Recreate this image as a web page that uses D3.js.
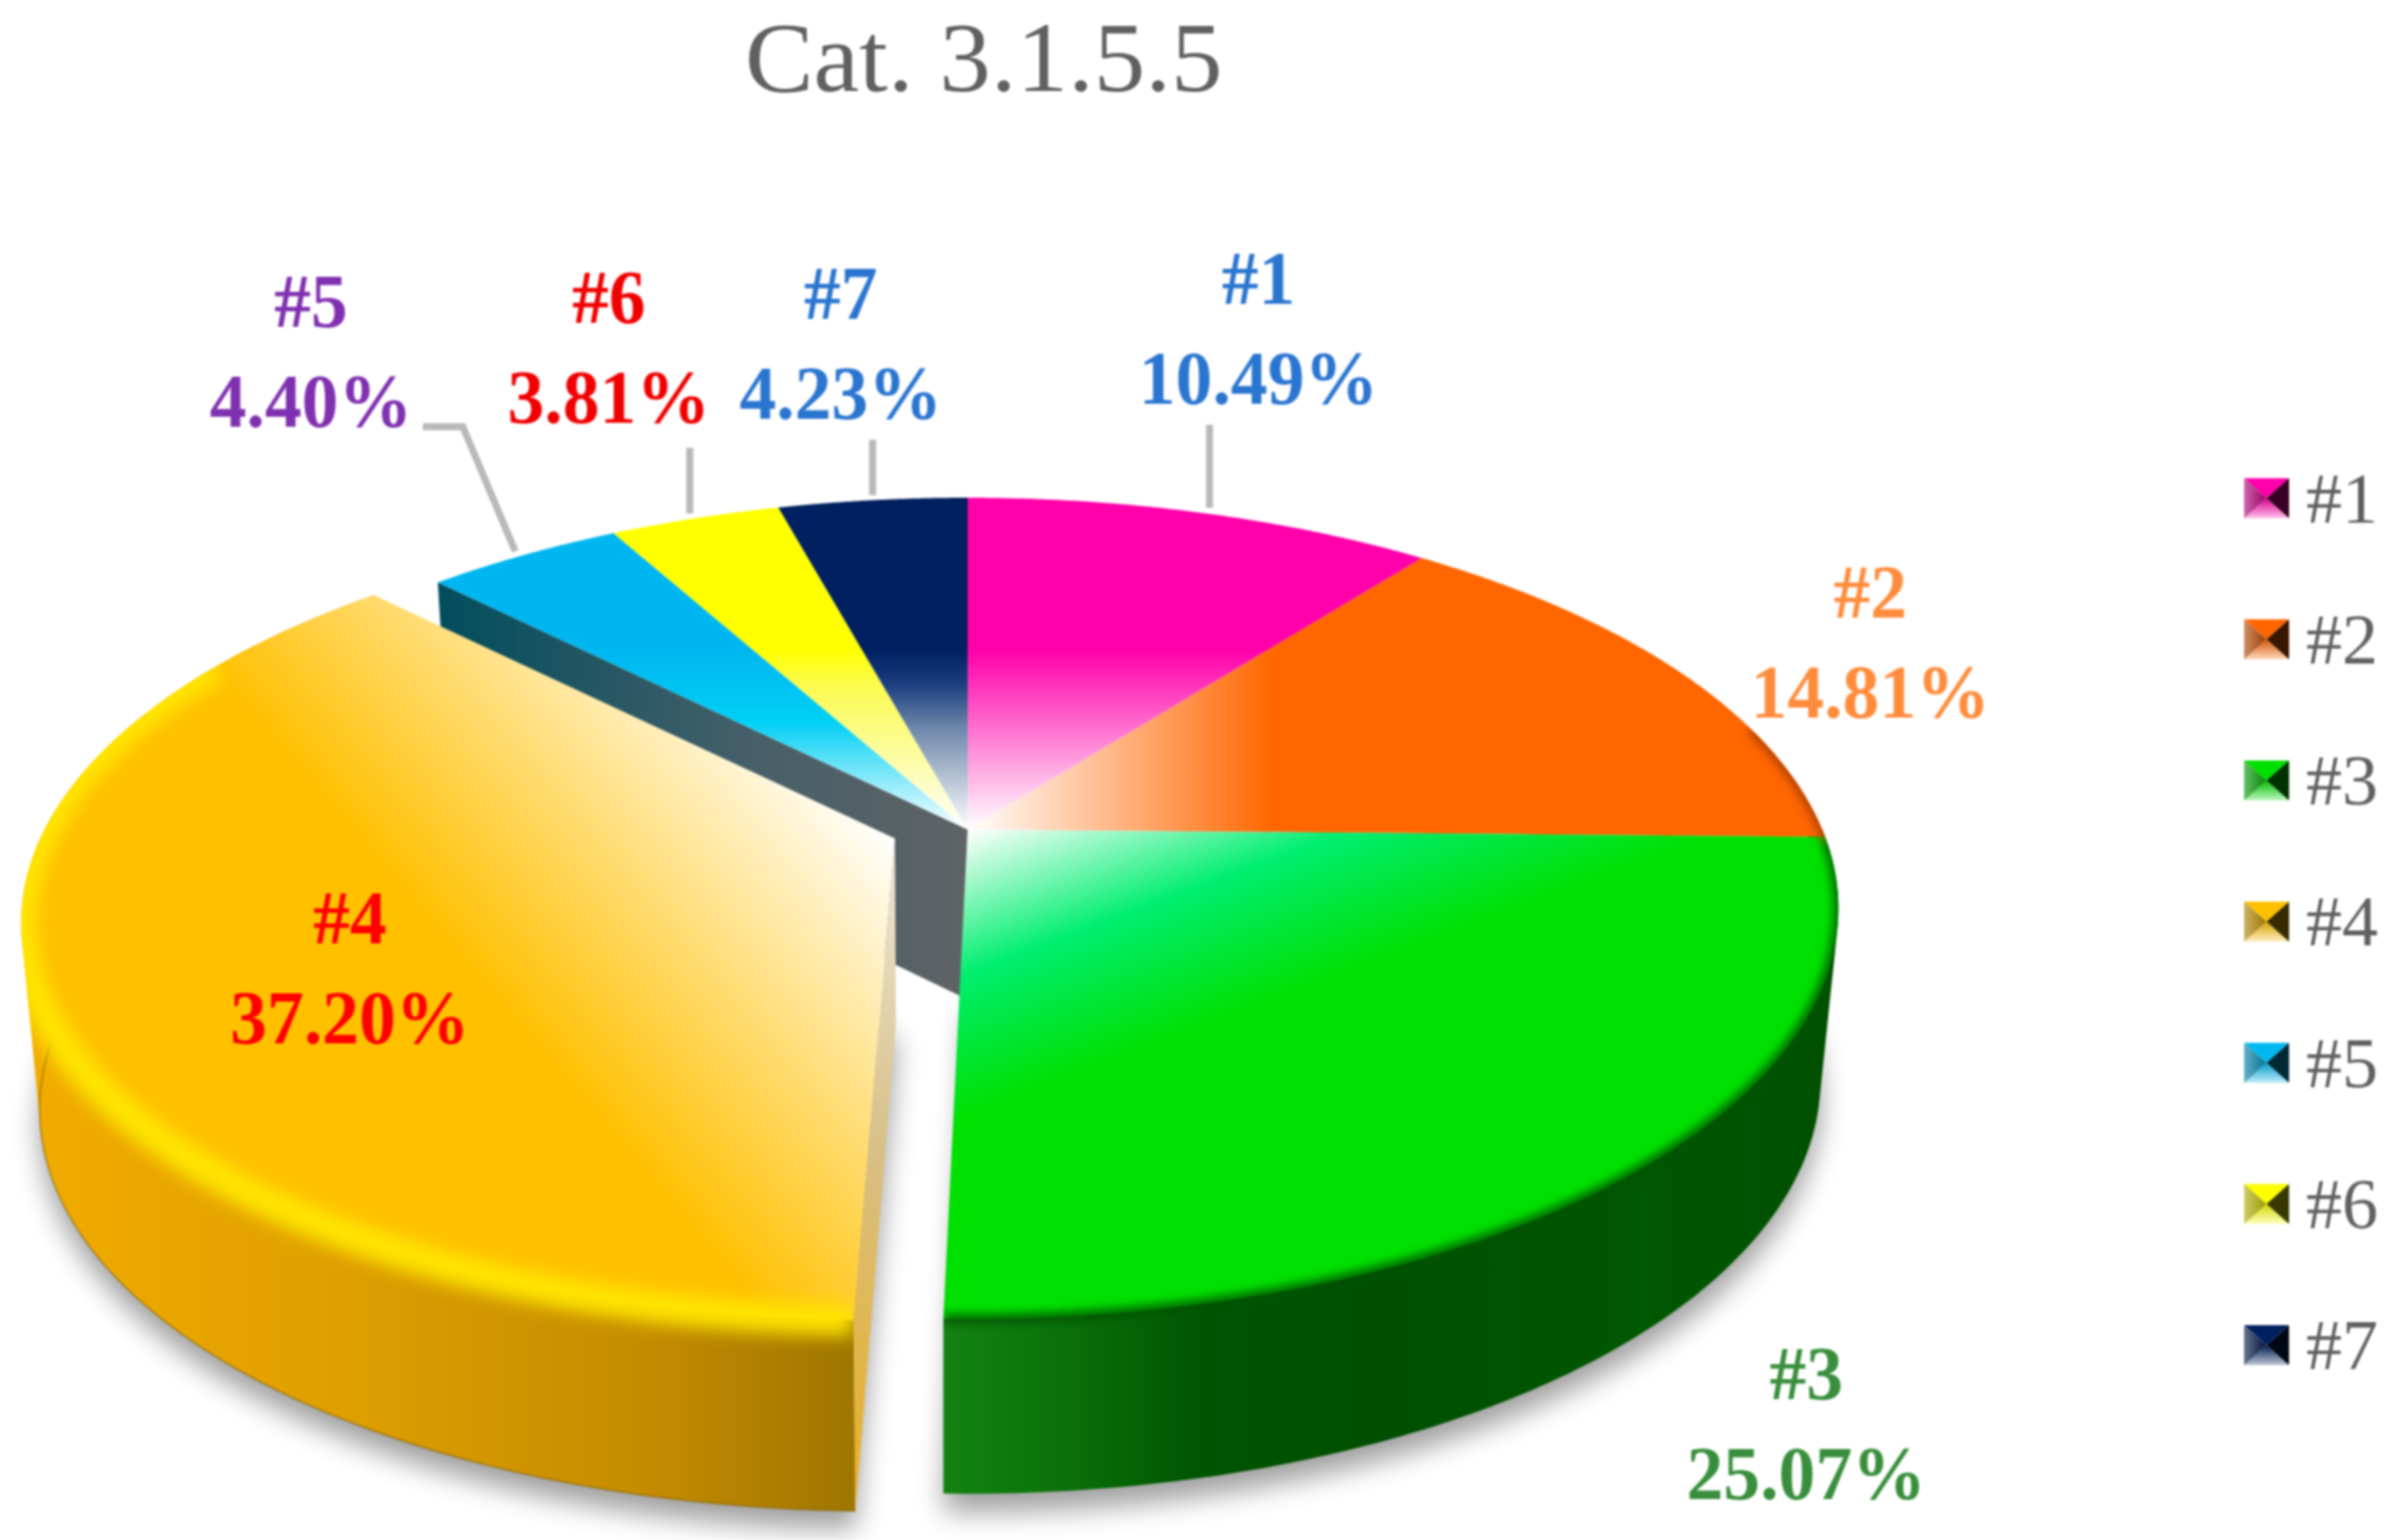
<!DOCTYPE html>
<html><head><meta charset="utf-8">
<script src="https://cdn.jsdelivr.net/npm/d3@7"></script>
<style>html,body{margin:0;padding:0;background:#fff;overflow:hidden}svg{display:block;filter:blur(.8px)}text{font-family:"Liberation Serif",serif}</style>
</head><body><svg id="c" width="2401" height="1541"></svg>
<script>
const chartTitle = "Cat. 3.1.5.5";
const categories = ["#1","#2","#3","#4","#5","#6","#7"];
const shares = [10.49,14.81,25.07,37.20,4.40,3.81,4.23];
const sliceColors = ["#ff00aa","#ff6600","#00e000","#ffc000","#00b8f0","#ffff00","#002060"];
const labelColors = ["#2a75d0","#ff8c3c","#388e3c","#ff0000","#7f30b0","#f00000","#2a75d0"];
const labelX = [1259,1871,1807,350,311,609,841];
const labelY = [304,618,1400,944,327,323,319];
const leaderStart = [[1210,425],null,null,null,[423,427],[690,448],[873,440]];
const leaderElbow = [null,null,null,null,[463,427],null,null];

const W=2401,H=1541;
const svg=d3.select("#c");
const defs=svg.append("defs");
const P={ax:968,ay:830,rx:855,ry:395.7,k:.192,bx:945,bs:.98};
const explode={du:-.085,dy:9,ysc:.985,depth:1.09};
const none={du:0,dy:0,ysc:1,depth:1};
const project=(th,o=none)=>{const u=Math.sin(th)+o.du,v=Math.cos(th),w=1+P.k*v;return [P.ax+P.rx*u/w,P.ay+o.dy-o.ysc*P.ry*v/w,v];};
const lower=(p,o=none)=>[P.bx+(p[0]-P.bx)*P.bs,p[1]+(170-5*p[2])*o.depth];
const pts=(a,b,o=none)=>d3.range(0,121).map(i=>project(a+(b-a)*i/120,o));
const line=d3.line().x(d=>d[0]).y(d=>d[1]);
const closed=ps=>line(ps)+"Z";
const arcs=d3.pie().sort(null).value(d=>d)(shares);
const apex=(o=none)=>[P.ax+P.rx*o.du,P.ay+o.dy,0];

function grad(id,x1,y1,x2,y2,stops){
  const g=defs.append("linearGradient").attr("id",id).attr("gradientUnits","userSpaceOnUse")
    .attr("x1",x1).attr("y1",y1).attr("x2",x2).attr("y2",y2);
  stops.forEach(s=>g.append("stop").attr("offset",s[0]).attr("stop-color",s[1]));
}
const blur=(id,s)=>defs.append("filter").attr("id",id).attr("filterUnits","userSpaceOnUse").attr("x",-100).attr("y",-100).attr("width",W+200).attr("height",H+200).append("feGaussianBlur").attr("stdDeviation",s);
blur("b14",14);blur("b8",9);blur("b4",5);

grad("t0",0,830,0,650,[[0,"#fff"],[1,sliceColors[0]]]);
grad("t1",968,0,1275,0,[[0,"#fff"],[1,sliceColors[1]]]);
grad("t2",968,830,968+.35*270,830+.94*270,[[0,"#fff"],[.5,"#00ee70"],[1,sliceColors[2]]]);
grad("t3",897,840,897-.76*410,840+.65*410,[[0,"#fff"],[1,sliceColors[3]]]);
grad("t4",0,830,0,650,[[0,"#fff"],[.6,"#00d0f5"],[1,"#00b6f0"]]);
grad("t5",0,830,0,650,[[0,"#fff"],[.34,"#fdfdb0"],[.8,"#fbfb50"],[1,sliceColors[5]]]);
grad("t6",0,830,0,650,[[0,"#fff"],[.56,"#6f88aa"],[.8,"#1e4080"],[1,sliceColors[6]]]);
grad("sideG",945,0,1820,0,[[0,"#128212"],[.1,"#0c760c"],[.3,"#005400"],[.5,"#004f00"],[.8,"#005800"],[1,"#005000"]]);
grad("sideO",31,0,862,0,[[0,"#f2ac00"],[.4,"#dd9e00"],[.75,"#c48b00"],[1,"#9c7500"]]);
grad("wall",435,0,968,0,[[0,"#004d5c"],[.6,"#47606a"],[1,"#5f6364"]]);
grad("strip",0,840,0,1510,[[0,"#efe8da"],[.45,"#d8c088"],[1,"#e8ae1e"]]);

const root=svg.append("g");
const a3=arcs[3],a2=arcs[2],a1=arcs[1],a4=arcs[4];

// soft ground shadow beneath each body
const footprint=(d,o)=>[lower(apex(o),o),...pts(d.startAngle,d.endAngle,o).map(p=>lower(p,o))];
const sh=root.append("g").attr("filter","url(#b14)").attr("transform","translate(0,18)").attr("fill","#000").attr("opacity",.38);
sh.append("path").attr("d",closed(footprint(a3,explode)));
sh.append("path").attr("d",closed(footprint({startAngle:a2.startAngle-.02,endAngle:a2.endAngle},none)));

// inner wall left by the pulled-out slice
const cEdge=project(a4.startAngle);
root.append("path").attr("d",closed([apex(),cEdge,lower(cEdge),lower(apex())])).attr("fill","url(#wall)");

// outer walls: convex hull of the upper rim and the lower rim
const sidePath=(d,o)=>{const r=pts(d.startAngle,d.endAngle,o);return closed(d3.polygonHull([...r,...r.map(p=>lower(p,o))].map(p=>[p[0],p[1]])));};
root.append("path").attr("d",sidePath({startAngle:a2.startAngle-.02,endAngle:a2.endAngle},none)).attr("fill","url(#sideG)");

// upper faces of the stay-at-home slices
const topPath=(d,o)=>closed([apex(o),...pts(d.startAngle,d.endAngle,o)]);
arcs.forEach((d,i)=>{ if(i===3) return;
  root.append("path").attr("d",topPath(d,none)).attr("fill",`url(#t${i})`);
});
// soft dark bevel at the visible rim
defs.append("clipPath").attr("id","clipMain").call(c=>{
  c.append("path").attr("d",topPath(a2,none));
  c.append("path").attr("d",topPath(a1,none));
  c.append("path").attr("d",sidePath(a2,none));
});
const rimG=root.append("g").attr("clip-path","url(#clipMain)").append("g").attr("filter","url(#b4)");
rimG.append("path").attr("d",line(pts(1.3,a2.startAngle))).attr("fill","none").attr("stroke","#a83c00").attr("stroke-width",9);
rimG.append("path").attr("d",line(pts(a2.startAngle,a2.endAngle))).attr("fill","none").attr("stroke","#005400").attr("stroke-width",9);

// pulled-out slice
root.append("path").attr("d",sidePath(a3,explode)).attr("fill","url(#sideO)");
const s0=project(a3.startAngle,explode);
root.append("path").attr("d",closed([apex(explode),s0,lower(s0,explode),lower(apex(explode),explode)])).attr("fill","url(#strip)");
root.append("path").attr("d",line(pts(a3.startAngle,a3.startAngle+1.7,explode).map(p=>lower(p,explode)))).attr("fill","none").attr("stroke","#8a6400").attr("stroke-width",2).attr("stroke-opacity",.5);
root.append("path").attr("d",topPath(a3,explode)).attr("fill","url(#t3)");
defs.append("clipPath").attr("id","clipO").call(c=>{
  c.append("path").attr("d",topPath(a3,explode));
  c.append("path").attr("d",sidePath(a3,explode));
});
const rimO=root.append("g").attr("clip-path","url(#clipO)");
rimO.append("g").attr("filter","url(#b8)").append("path").attr("d",line(pts(a3.startAngle,a3.startAngle+2.05,explode))).attr("fill","none").attr("stroke","#ffe600").attr("stroke-width",30);

// leaders
const txt=root.append("g");
arcs.forEach((d,i)=>{ if(!leaderStart[i]) return;
  const m=project((d.startAngle+d.endAngle)/2);
  const seq=[leaderStart[i]];
  if(leaderElbow[i]) seq.push(leaderElbow[i],[m[0]-8,m[1]-4]); else seq.push([leaderStart[i][0],m[1]-5]);
  txt.append("path").attr("d",line(seq)).attr("fill","none").attr("stroke","#b9b9b9").attr("stroke-width",7);
});
// labels
const labelFont=76,labelScale=.97;
categories.forEach((c,i)=>{
  [c,shares[i].toFixed(2)+"%"].forEach((t,j)=>{
    txt.append("text").text(t)
      .attr("transform",`translate(${labelX[i]},${labelY[i]+j*100}) scale(${labelScale},1)`)
      .attr("text-anchor","middle").attr("font-weight","bold").attr("font-size",labelFont).attr("fill",labelColors[i]);
  });
});
// title
txt.append("text").text(chartTitle).attr("transform","translate(984,91) scale(1.03,1)").attr("text-anchor","middle").attr("font-size",100).attr("fill","#606060");

// legend
const ly=d3.scalePoint().domain(categories).range([498.5,1346]);
const sw=45,shh=40,lx=2245;
categories.forEach((c,i)=>{
  const y=ly(c)-shh/2,col=d3.color(sliceColors[i]);
  const g=txt.append("g").attr("transform",`translate(${lx},${y})`);
  const lg=`lg${i}`;
  const lb=defs.append("linearGradient").attr("id",lg).attr("x1",0).attr("y1",0).attr("x2",0).attr("y2",1);
  lb.append("stop").attr("offset",0).attr("stop-color",col.darker(.5)+"");
  lb.append("stop").attr("offset",1).attr("stop-color",d3.interpolateRgb(col,"#fff")(.75));
  const ll=`ll${i}`;
  const lh=defs.append("linearGradient").attr("id",ll).attr("x1",0).attr("y1",0).attr("x2",1).attr("y2",0);
  lh.append("stop").attr("offset",0).attr("stop-color",d3.interpolateRgb(col.darker(.6),"#ccc")(.5));
  lh.append("stop").attr("offset",1).attr("stop-color",col.darker(1.4)+"");
  const cx=sw/2,cy=shh/2;
  g.append("path").attr("d",`M0,0L${sw},0L${cx},${cy}Z`).attr("fill",col+"");
  g.append("path").attr("d",`M0,${shh}L${sw},${shh}L${cx},${cy}Z`).attr("fill",`url(#${lg})`);
  g.append("path").attr("d",`M0,0L0,${shh}L${cx},${cy}Z`).attr("fill",`url(#${ll})`);
  g.append("path").attr("d",`M${sw},0L${sw},${shh}L${cx},${cy}Z`).attr("fill",d3.interpolateRgb(col,"#000")(.78));
  txt.append("text").text(c).attr("x",2307).attr("y",ly(c)+24).attr("font-size",72).attr("fill","#606060");
});
</script></body></html>
